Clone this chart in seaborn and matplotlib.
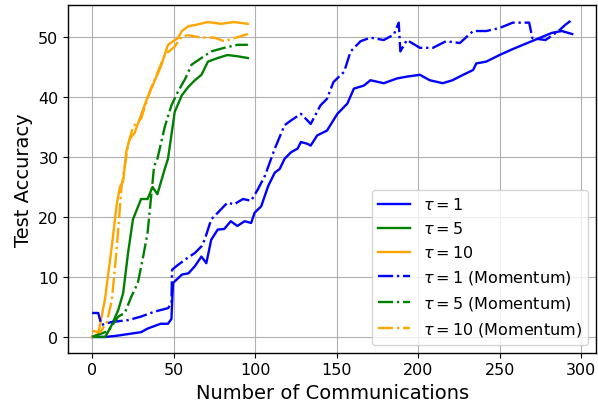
import matplotlib
matplotlib.use("Agg")
import matplotlib.pyplot as plt
import seaborn as sns

# tau = 1 (plain)
x_t1 = [0, 8, 15, 30, 34, 42, 46.5, 48.6, 49.6, 51.6, 55, 59, 63, 67, 70, 73, 77, 81, 85, 89,
        93.5, 97.5, 99.6, 103.7, 108, 112, 115, 118, 122, 126, 128, 132, 134, 138, 144, 150.4,
        156.5, 160.5, 166.6, 170.7, 178.8, 187, 193, 201, 207, 215, 221, 227.5, 233.6, 235.6,
        241.7, 249.8, 258, 266, 274, 282, 288, 294.4]
y_t1 = [0, 0, 0.2, 0.8, 1.4, 2.2, 2.2, 3.0, 9.0, 9.5, 10.4, 10.6, 11.8, 13.4, 12.3, 16.2, 17.9,
        18.0, 19.3, 18.5, 19.3, 19.0, 20.7, 21.8, 25.2, 27.4, 28.0, 29.7, 30.8, 31.4, 32.5, 32.2,
        31.9, 33.6, 34.4, 37.2, 38.9, 41.4, 41.9, 42.8, 42.3, 43.1, 43.4, 43.7, 42.8, 42.3, 42.8,
        43.7, 44.5, 45.6, 45.9, 47.0, 48.0, 48.9, 49.8, 50.7, 51.0, 50.5]

# tau = 5 (plain)
x_t5 = [0, 8, 12, 16, 19, 22, 25, 30, 34, 37, 40, 44.5, 46.5, 50.6, 55, 59, 63, 67, 71, 77,
        83, 89, 95.5]
y_t5 = [0, 0, 2.0, 4.5, 7.3, 14.0, 19.6, 23.0, 23.0, 25.0, 23.8, 28.0, 29.7, 37.5, 40.3, 41.7,
        42.8, 43.7, 45.9, 46.5, 47.0, 46.8, 46.5]

# tau = 10 (plain)
x_t10 = [0, 3.7, 7.8, 12, 15, 17, 19, 21, 23, 26, 30, 34, 38, 42, 46.5, 49.6, 52.6, 55, 59,
         63, 71, 79, 87, 95.5]
y_t10 = [0, 0.5, 6.2, 15.0, 22.0, 25.0, 26.0, 31.0, 33.0, 34.0, 37.0, 40.0, 42.5, 45.0, 48.7,
         49.3, 49.8, 51.0, 51.8, 52.0, 52.5, 52.2, 52.5, 52.2]

# tau = 1 (momentum)
x_m1 = [0, 3.7, 5.7, 12, 22, 30, 38, 46.5, 48.6, 49, 51.6, 57, 63, 67, 69, 73, 77, 83, 87,
        92.5, 97.5, 101.6, 106, 112, 118, 122, 128, 132, 134, 140, 144, 148, 154.5, 158.5,
        164.6, 170.7, 178.8, 185, 188, 189, 193, 201, 209, 217, 225.5, 233.6, 241.7, 249.8,
        258, 268, 270, 278, 286, 290, 293.4]
y_m1 = [4.0, 4.0, 2.0, 2.5, 2.8, 3.4, 4.2, 4.8, 5.6, 11.2, 11.8, 12.9, 14.0, 15.1, 16.2, 19.6,
        20.7, 22.4, 22.1, 23.0, 22.7, 24.6, 26.9, 31.4, 35.3, 36.1, 37.2, 36.1, 35.5, 38.6, 39.7,
        42.5, 44.2, 47.6, 49.3, 49.9, 49.5, 50.4, 52.4, 47.6, 49.5, 48.2, 48.2, 49.3, 49.0, 51.0,
        51.0, 51.5, 52.4, 52.4, 49.8, 49.5, 51.0, 52.0, 52.7]

# tau = 5 (momentum)
x_m5 = [0, 5, 10, 16, 20, 24, 28, 31, 34, 38, 40, 44.5, 48.6, 52.6, 57, 61, 67, 73, 81, 89,
        95.5]
y_m5 = [0, 0.5, 1.0, 3.4, 4.0, 6.7, 9.0, 13.0, 17.4, 28.5, 29.7, 35.0, 38.6, 40.9, 43.0, 45.4,
        46.5, 47.6, 48.2, 48.7, 48.7]

# tau = 10 (momentum)
x_m10 = [0, 5, 9, 12, 15, 18, 22, 25, 30, 36, 40, 44.5, 50.6, 55, 59, 67, 75, 81, 87, 95.5]
y_m10 = [1.0, 0.8, 2.5, 6.0, 14.5, 25.0, 32.0, 35.0, 36.4, 41.4, 44.0, 47.0, 48.4, 50.1, 50.3,
         49.9, 49.9, 49.3, 49.8, 50.5]

series = [
    (x_t1, y_t1, "blue", "-", r"$\tau=1$"),
    (x_t5, y_t5, "green", "-", r"$\tau=5$"),
    (x_t10, y_t10, "orange", "-", r"$\tau=10$"),
    (x_m1, y_m1, "blue", "-.", r"$\tau=1$ (Momentum)"),
    (x_m5, y_m5, "green", "-.", r"$\tau=5$ (Momentum)"),
    (x_m10, y_m10, "orange", "-.", r"$\tau=10$ (Momentum)"),
]

fig, ax = plt.subplots(figsize=(5.98, 4.02), dpi=100)
for xs, ys, c, ls, lab in series:
    sns.lineplot(x=xs, y=ys, color=c, linestyle=ls, linewidth=1.7, label=lab,
                 sort=False, estimator=None, ax=ax)

ax.grid(True, color="#b0b0b0", linewidth=0.8)
for s in ax.spines.values():
    s.set_linewidth(1.0)
ax.set_xlabel("Number of Communications", fontsize=14)
ax.set_ylabel("Test Accuracy", fontsize=14)
ax.tick_params(labelsize=11.5)
ax.legend(loc="lower right", fontsize=11.5)
plt.subplots_adjust(left=0.114, right=0.997, top=0.985, bottom=0.12)
plt.savefig("out.png", dpi=100)
